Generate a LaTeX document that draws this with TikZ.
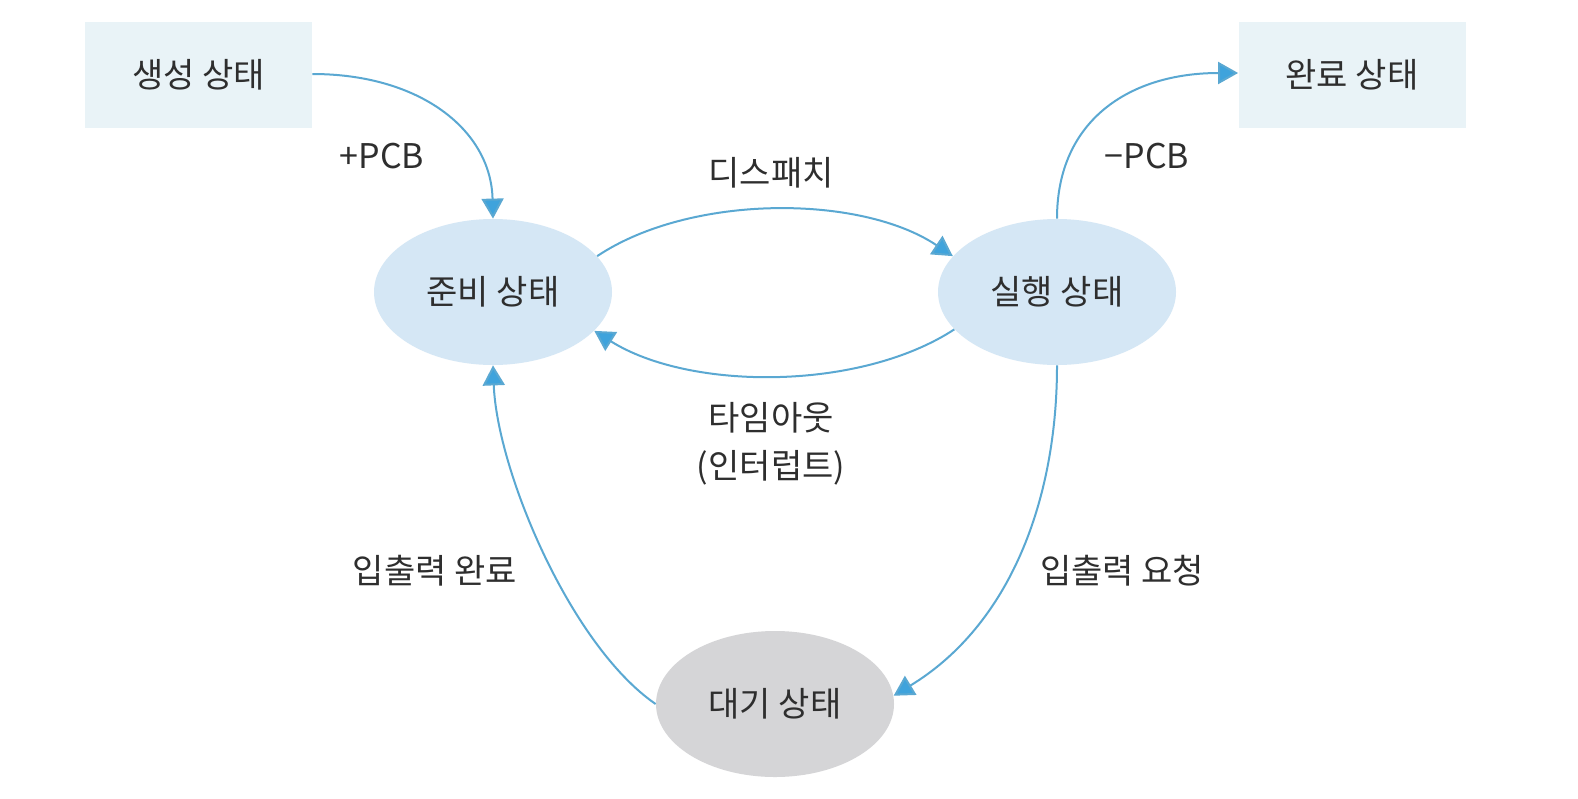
\documentclass[tikz,border=0pt]{standalone}
\usepackage{fontspec}
\setmainfont{Noto Sans CJK KR}
\usetikzlibrary{arrows.meta,shapes.geometric}
\definecolor{rectfill}{HTML}{E9F3F7}
\definecolor{ellfill}{HTML}{D5E7F5}
\definecolor{waitfill}{HTML}{D5D5D7}
\definecolor{linecol}{HTML}{5AA8D2}
\definecolor{tipcol}{HTML}{3FA3DC}
\definecolor{txt}{HTML}{2E2E2E}
\tikzset{
  rectstate/.style={fill=rectfill, minimum width=227*0.5pt, minimum height=106*0.5pt, inner sep=0pt, text=txt, font=\fontsize{17pt}{20pt}\selectfont},
  ellstate/.style={ellipse, fill=ellfill, minimum width=238*0.5pt, minimum height=146*0.5pt, inner sep=0pt, text=txt, font=\fontsize{17pt}{20pt}\selectfont},
  lbl/.style={text=txt, font=\fontsize{17pt}{20pt}\selectfont, align=center, inner sep=0pt},
  conn/.style={draw=linecol, line width=1pt, -{Triangle[length=10pt,width=11pt,fill=tipcol]}, shorten >=0pt}
}
\begin{document}
\begin{tikzpicture}[x=0.5pt,y=-0.5pt]
\useasboundingbox (0,0) rectangle (1578,798);
\fill[white] (0,0) rectangle (1578,798);
\node[rectstate] (gen) at (198.5,75) {생성 상태};
\node[rectstate] (done) at (1352,75) {완료 상태};
\node[ellstate] (ready) at (493,292) {준비 상태};
\node[ellstate] (run) at (1057,292) {실행 상태};
\node[ellstate, fill=waitfill] (wait) at (775,704) {대기 상태};

\node[lbl] (l1) at (382,156) {+PCB};
\node[lbl] (l2) at (771,173) {디스패치};
\node[lbl] (l3) at (1147,156) {−PCB};
\node[lbl] (l4) at (771,444) {타임아웃\\[4pt](인터럽트)};
\node[lbl] (l5) at (435,571) {입출력 완료};
\node[lbl] (l6) at (1122,571) {입출력 요청};

\draw[conn] (gen.east |- 0,74) .. controls (420,74) and (491,130) .. (ready.north);
\draw[conn] (ready.19) .. controls (690,194) and (860,194) .. (run.161);
\draw[conn] (run.200) .. controls (860,391) and (690,391) .. (ready.339);
\draw[conn] (run.north) .. controls (1057,120) and (1130,73) .. (done.west |- 0,73);
\draw[conn] (run.south) .. controls (1057,500) and (1010,625) .. (wait.4);
\draw[conn] (wait.west) .. controls (570,645) and (497,470) .. (ready.south);
\end{tikzpicture}
\end{document}
